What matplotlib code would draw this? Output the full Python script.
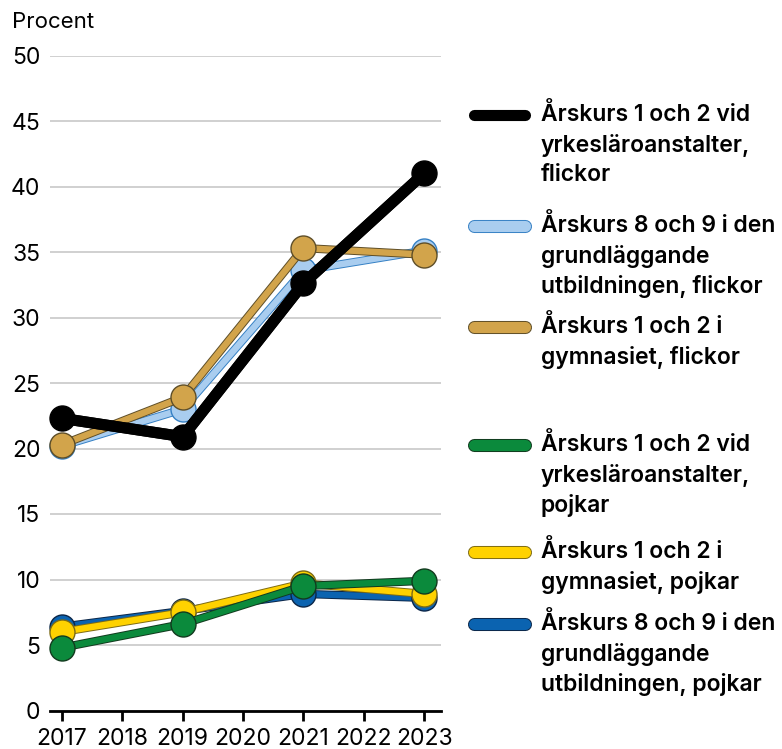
import matplotlib
matplotlib.use("Agg")
import matplotlib.pyplot as plt
import matplotlib.patheffects as pe
from matplotlib.lines import Line2D

plt.rcParams['font.family'] = ['Inter', 'DejaVu Sans']

years = [2017, 2019, 2021, 2023]
tick_years = [2017, 2018, 2019, 2020, 2021, 2022, 2023]
y_ticks = [0, 5, 10, 15, 20, 25, 30, 35, 40, 45, 50]

yrkes_flickor = [22.3, 20.9, 32.6, 41.0]
grund_flickor = [20.2, 23.0, 33.6, 35.1]
gymn_flickor = [20.3, 23.9, 35.3, 34.8]
yrkes_pojkar = [4.8, 6.6, 9.5, 9.9]
gymn_pojkar = [6.0, 7.5, 9.7, 8.9]
grund_pojkar = [6.4, 7.6, 8.9, 8.6]

labels = [
    "Årskurs 1 och 2 vid\nyrkesläroanstalter,\nflickor",
    "Årskurs 8 och 9 i den\ngrundläggande\nutbildningen, flickor",
    "Årskurs 1 och 2 i\ngymnasiet, flickor",
    "Årskurs 1 och 2 vid\nyrkesläroanstalter,\npojkar",
    "Årskurs 1 och 2 i\ngymnasiet, pojkar",
    "Årskurs 8 och 9 i den\ngrundläggande\nutbildningen, pojkar",
]

# (data, fill, edge, linewidth)
series = [
    (yrkes_flickor, "#000000", "#000000", 8.0),
    (grund_flickor, "#a9cdef", "#3580c4", 4.6),
    (gymn_flickor, "#d2a44b", "#5e4e28", 4.6),
    (yrkes_pojkar, "#0b8a3c", "#123a1e", 4.6),
    (gymn_pojkar, "#ffd200", "#7d6b14", 4.6),
    (grund_pojkar, "#0b63b0", "#0b2648", 4.6),
]

W, H = 782, 749
fig = plt.figure(figsize=(W / 100, H / 100), dpi=100)


def fx(px):
    return px / W


def fy(py):
    return 1 - py / H


ax = fig.add_axes([fx(50), fy(710.5), fx(441) - fx(50), fy(55.5) - fy(710.5)])

draw_order = [5, 4, 3, 1, 2, 0]
for z, i in enumerate(draw_order):
    data, fill, edge, lw = series[i]
    stroke = lw + 1.4 if i != 0 else lw
    ax.plot(years, data, color=fill, lw=lw, solid_capstyle='round',
            solid_joinstyle='round', clip_on=False, zorder=3 + 2 * z,
            path_effects=[pe.Stroke(linewidth=stroke, foreground=edge), pe.Normal()])
    ax.plot(years, data, ls='none', marker='o', markersize=18,
            markerfacecolor=fill, markeredgecolor=edge, markeredgewidth=1.0,
            clip_on=False, zorder=4 + 2 * z)

ax.set_xlim(2016.8, 2023.28)
ax.set_ylim(0, 50)
ax.set_yticks(y_ticks)
ax.set_xticks(tick_years)
ax.grid(axis='y', color='#c8c8c8', lw=1.2)
ax.set_axisbelow(True)
for s in ['top', 'right', 'left']:
    ax.spines[s].set_visible(False)
ax.spines['bottom'].set_color('black')
ax.spines['bottom'].set_linewidth(2)
ax.spines['bottom'].set_zorder(2)
ax.tick_params(axis='y', length=0, pad=7, labelsize=16.5)
ax.tick_params(axis='x', length=7, width=2, color='black', pad=5.5, labelsize=16.5)

fig.text(fx(12), fy(22), "Procent", fontsize=16, va='center', ha='left')

# legend, drawn by hand
legend_y = [115, 226, 327, 445, 552, 624]
for (data, fill, edge, lw), lab, ly in zip(series, labels, legend_y):
    if fill != "#000000":
        fig.add_artist(Line2D([fx(474), fx(525)], [fy(ly), fy(ly)], color=edge,
                              lw=9.4, solid_capstyle='round'))
    fig.add_artist(Line2D([fx(474), fx(525)], [fy(ly), fy(ly)], color=fill,
                          lw=8, solid_capstyle='round'))
    fig.text(fx(541), fy(ly - 12), lab, fontsize=16.5, fontweight='semibold',
             va='top', ha='left', linespacing=1.42)

fig.savefig("out.png", dpi=100)
